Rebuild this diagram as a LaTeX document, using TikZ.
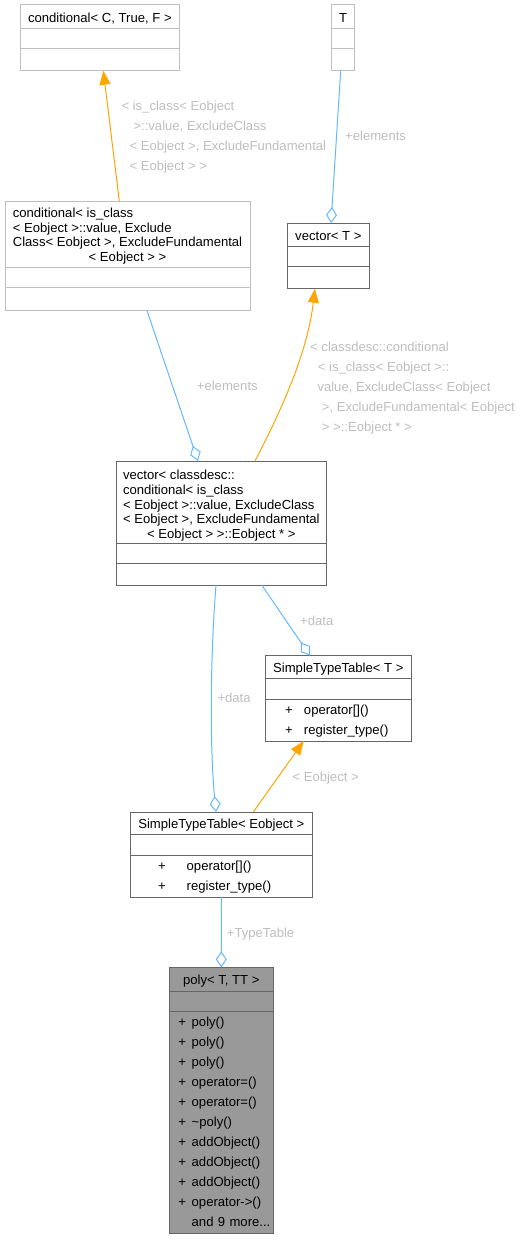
\documentclass[tikz,border=0pt]{standalone}
\usepackage{fontspec}
\setmainfont{Liberation Sans}
\usetikzlibrary{arrows.meta}
\usetikzlibrary{positioning}
\definecolor{docline}{HTML}{666666}
\definecolor{undocline}{HTML}{BFBFBF}
\definecolor{curfill}{HTML}{999999}
\definecolor{assoccol}{HTML}{63B8FF}
\definecolor{inhcol}{HTML}{FFA500}
\definecolor{lblcol}{HTML}{BEBEBE}
\tikzstyle{head} = [rectangle,
anchor=north west,
inner sep=0pt,
outer sep=0pt,
text height=11.5pt,
text depth=0.5pt,
line width=1pt,
font=\fontsize{13.1}{14.6}\selectfont,
draw=docline, fill=white]
\tikzstyle{mhead} = [rectangle,
anchor=north west,
inner sep=0pt,
outer sep=0pt,
line width=1pt,
font=\fontsize{13.1}{14.6}\selectfont,
draw=docline, fill=white]
\tikzstyle{attr} = [rectangle,
inner sep=0pt,
outer sep=0pt,
line width=1pt,
draw=docline, fill=white]
\tikzstyle{ops} = [attr,
align=left,
font=\fontsize{13.1}{20}\selectfont]
\tikzstyle{undoc} = [draw=undocline]
\tikzstyle{current} = [fill=curfill]
\tikzstyle{inherit} = [line width=1pt, draw=inhcol, -{Triangle[length=14pt,width=11pt]}]
\tikzstyle{member} = [line width=1pt, draw=assoccol, -{Diamond[open,length=16pt,width=11pt]}]
\tikzstyle{lbl} = [anchor=north west,
inner sep=0pt,
align=left,
text=lblcol,
font=\fontsize{13.1}{20}\selectfont,
execute at begin node=\strut]

\begin{document}
\begin{tikzpicture}[x=1pt, y=-1pt]
\useasboundingbox (0,0) rectangle (524,1239);

\node (cond_tmpl) [head, undoc, minimum width=158.3pt, minimum height=23.7pt] at (20.7,5) {conditional< C, True, F >};
\node (cond_tmpl_attr) [attr, undoc, minimum width=158.3pt, minimum height=20pt, below=0pt of cond_tmpl] {};
\node (cond_tmpl_ops) [attr, undoc, minimum width=158.3pt, minimum height=22pt, below=0pt of cond_tmpl_attr] {};

\node (t_par) [head, undoc, minimum width=22.6pt, minimum height=23.7pt] at (331.7,5) {T};
\node (t_par_attr) [attr, undoc, minimum width=22.6pt, minimum height=20pt, below=0pt of t_par] {};
\node (t_par_ops) [attr, undoc, minimum width=22.6pt, minimum height=22pt, below=0pt of t_par_attr] {};

\node (cond_inst) [mhead, undoc, minimum width=245pt, minimum height=66.7pt, text height=12.25pt, text depth=46.15pt] at (5,201) {%
  \begin{tabular}[t]{@{}l@{}}
  conditional< is\_class\\
  < Eobject >::value, Exclude\\
  Class< Eobject >, ExcludeFundamental\\
  \multicolumn{1}{@{}c@{}}{< Eobject > >}
  \end{tabular}};
\node (cond_inst_attr) [attr, undoc, minimum width=245pt, minimum height=20pt, below=0pt of cond_inst] {};
\node (cond_inst_ops) [attr, undoc, minimum width=245pt, minimum height=23pt, below=0pt of cond_inst_attr] {};

\node (vec_tmpl) [head, minimum width=81.3pt, minimum height=23.7pt] at (287.7,223) {vector< T >};
\node (vec_tmpl_attr) [attr, minimum width=81.3pt, minimum height=20pt, below=0pt of vec_tmpl] {};
\node (vec_tmpl_ops) [attr, minimum width=81.3pt, minimum height=22pt, below=0pt of vec_tmpl_attr] {};

\node (vec_inst) [mhead, minimum width=210.7pt, minimum height=82.3pt, text height=14.25pt, text depth=58.75pt] at (116,461) {%
  \begin{tabular}[t]{@{}l@{}}
  vector< classdesc::\\
  conditional< is\_class\\
  < Eobject >::value, ExcludeClass\\
  < Eobject >, ExcludeFundamental\\
  \multicolumn{1}{@{}c@{}}{< Eobject > >::Eobject * >}
  \end{tabular}};
\node (vec_inst_attr) [attr, minimum width=210.7pt, minimum height=20pt, below=0pt of vec_inst] {};
\node (vec_inst_ops) [attr, minimum width=210.7pt, minimum height=21.7pt, below=0pt of vec_inst_attr] {};

\node (stt_tmpl) [head, minimum width=145.3pt, minimum height=22.6pt] at (265.7,655.7) {SimpleTypeTable< T >};
\node (stt_tmpl_attr) [attr, minimum width=145.3pt, minimum height=20.7pt, below=0pt of stt_tmpl] {};
\node (stt_tmpl_ops) [ops, text width=106.7pt, inner xsep=19.3pt, minimum height=42pt, below=0pt of stt_tmpl_attr] {%
  \begin{tabular}{@{}p{19pt}@{}l@{}}
  + & operator[]()\\
  + & register\_type()
  \end{tabular}};

\node (stt_inst) [head, minimum width=181.3pt, minimum height=22.3pt] at (130.7,812) {SimpleTypeTable< Eobject >};
\node (stt_inst_attr) [attr, minimum width=181.3pt, minimum height=20.7pt, below=0pt of stt_inst] {};
\node (stt_inst_ops) [ops, text width=126.7pt, inner xsep=27.3pt, minimum height=42pt, below=0pt of stt_inst_attr] {%
  \begin{tabular}{@{}p{28.7pt}@{}l@{}}
  + & operator[]()\\
  + & register\_type()
  \end{tabular}};

\node (poly) [head, current, minimum width=104pt, minimum height=23.7pt] at (169.3,967.3) {poly< T, TT >};
\node (poly_attr) [attr, current, minimum width=104pt, minimum height=20pt, below=0pt of poly] {};
\node (poly_ops) [ops, current, text width=86pt, inner xsep=9pt, minimum height=222.3pt, below=0pt of poly_attr] {%
  \begin{tabular}{@{}p{13.4pt}@{}l@{}}
  + & poly()\\
  + & poly()\\
  + & poly()\\
  + & operator=()\\
  + & operator=()\\
  + & \textasciitilde poly()\\
  + & addObject()\\
  + & addObject()\\
  + & addObject()\\
  + & operator->()\\
    & and 9 more...
  \end{tabular}};

% edge labels
\node (lbl_cond) [lbl] at (121.3,101.3) {< is\_class< Eobject\\
  \hspace*{12pt}>::value, ExcludeClass\\
  \hspace*{8pt}< Eobject >, ExcludeFundamental\\
  \hspace*{8pt}< Eobject > >};
\node (lbl_elem_t) [lbl] at (345,126) {+elements};
\node (lbl_elem_c) [lbl] at (196.7,376) {+elements};
\node (lbl_vec) [lbl] at (310,342) {< classdesc::conditional\\
  \hspace*{7.7pt}< is\_class< Eobject >::\\
  \hspace*{7.3pt}value, ExcludeClass< Eobject\\
  \hspace*{11.7pt}>, ExcludeFundamental< Eobject\\
  \hspace*{11.7pt}> >::Eobject * >};
\node (lbl_data_r) [lbl] at (300,611) {+data};
\node (lbl_data_l) [lbl] at (217.3,688.6) {+data};
\node (lbl_eobj) [lbl] at (292.3,767) {< Eobject >};
\node (lbl_table) [lbl] at (226.7,923) {+TypeTable};

\draw [inherit] ([xshift=114.3pt]cond_inst.north west) -- ([xshift=82.6pt]cond_tmpl_ops.south west);
\draw [member] ([xshift=9pt]t_par_ops.south west) -- ([xshift=43.3pt]vec_tmpl.north west);
\draw [member] ([xshift=142pt]cond_inst_ops.south west) -- ([xshift=82pt]vec_inst.north west);
\draw [inherit] ([xshift=139pt]vec_inst.north west) .. controls (286.2,401) and (307.8,348.7) .. ([xshift=27.3pt]vec_tmpl_ops.south west);
\draw [member] ([xshift=100pt]vec_inst_ops.south west) .. controls (210,660) and (210,750) .. ([xshift=85.3pt]stt_inst.north west);
\draw [member] ([xshift=145.7pt]vec_inst_ops.south west) -- ([xshift=44.3pt]stt_tmpl.north west);
\draw [inherit] ([xshift=122.6pt]stt_inst.north west) -- ([xshift=38pt]stt_tmpl_ops.south west);
\draw [member] (stt_inst_ops.south) -- (poly.north);

\end{tikzpicture}
\end{document}
